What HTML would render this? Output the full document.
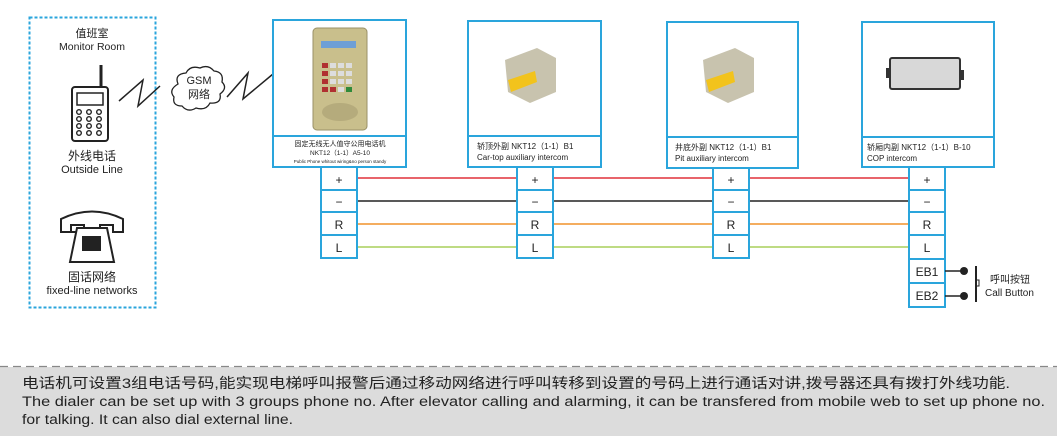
<!DOCTYPE html>
<html><head><meta charset="utf-8"><style>
html,body{margin:0;padding:0;background:#fff;width:1057px;height:436px;overflow:hidden}
svg{display:block}
text{font-family:"Liberation Sans","Noto Sans CJK SC",sans-serif;fill:#222}
</style></head><body>
<svg width="1057" height="436" viewBox="0 0 1057 436" xmlns="http://www.w3.org/2000/svg">
<rect x="29.5" y="17.5" width="126" height="290" fill="none" stroke="#2aa5dc" stroke-width="2" stroke-dasharray="3,2"/>
<text x="92" y="37" font-size="11" text-anchor="middle">值班室</text>
<text x="92" y="50" font-size="10.5" text-anchor="middle">Monitor Room</text>
<line x1="101" y1="65" x2="101" y2="88" stroke="#222" stroke-width="3"/>
<rect x="72" y="87" width="36" height="54" rx="3" fill="#fff" stroke="#222" stroke-width="2"/>
<rect x="77" y="93" width="26" height="12" fill="none" stroke="#222" stroke-width="1.5"/>
<g fill="none" stroke="#222" stroke-width="1.4">
<circle cx="79" cy="112" r="2.3"/><circle cx="89" cy="112" r="2.3"/><circle cx="99" cy="112" r="2.3"/>
<circle cx="79" cy="119" r="2.3"/><circle cx="89" cy="119" r="2.3"/><circle cx="99" cy="119" r="2.3"/>
<circle cx="79" cy="126" r="2.3"/><circle cx="89" cy="126" r="2.3"/><circle cx="99" cy="126" r="2.3"/>
<circle cx="79" cy="133" r="2.3"/><circle cx="89" cy="133" r="2.3"/><circle cx="99" cy="133" r="2.3"/>
</g>
<text x="92" y="160" font-size="12" text-anchor="middle">外线电话</text>
<text x="92" y="173" font-size="11" text-anchor="middle">Outside Line</text>
<path d="M61 232 L61 219 Q92 204 123 219 L123 232 L113 232 L113 225 L100 225 L100 232 Z M71 232 L71 225 L84 225 L84 232 Z" fill="none" stroke="#222" stroke-width="2"/>
<path d="M77 228 L107 228 L114 262 L70 262 Z" fill="#fff" stroke="#222" stroke-width="2"/>
<rect x="82" y="236" width="19" height="15" fill="#222"/>
<text x="92" y="281" font-size="12" text-anchor="middle">固话网络</text>
<text x="92" y="294" font-size="11" text-anchor="middle">fixed-line networks</text>
<polyline points="119,101 143,80 138,106 160,86" fill="none" stroke="#222" stroke-width="1.5"/>
<polyline points="227,97 248,73 243,99 273,74" fill="none" stroke="#222" stroke-width="1.5"/>
<path d="M178 84 q-4 -10 8 -11 q4 -8 14 -5 q8 -4 14 3 q10 1 8 11 q6 6 -2 12 q2 10 -10 9 q-4 8 -14 5 q-8 5 -14 -2 q-10 0 -8 -9 q-6 -7 4 -13 Z" fill="#fff" stroke="#222" stroke-width="1.3"/>
<text x="199" y="84" font-size="11" text-anchor="middle">GSM</text>
<text x="199" y="98" font-size="11" text-anchor="middle">网络</text>

<line x1="357" y1="178" x2="909" y2="178" stroke="#e0303a" stroke-width="1.5"/>
<line x1="357" y1="201" x2="909" y2="201" stroke="#222" stroke-width="1.5"/>
<line x1="357" y1="224" x2="909" y2="224" stroke="#f0922a" stroke-width="1.5"/>
<line x1="357" y1="247" x2="909" y2="247" stroke="#a8cf5a" stroke-width="1.5"/>

<rect x="273" y="20" width="133" height="147" fill="#fff" stroke="#2aa5dc" stroke-width="2"/>
<line x1="273" y1="136" x2="406" y2="136" stroke="#2aa5dc" stroke-width="2"/>
<rect x="313" y="28" width="54" height="102" rx="4" fill="#c9bf8c" stroke="#9a9168"/>
<rect x="321" y="41" width="35" height="7" fill="#6e9fd6"/>
<g fill="#b03030"><rect x="322" y="63" width="6" height="5"/><rect x="322" y="71" width="6" height="5"/><rect x="322" y="79" width="6" height="5"/><rect x="322" y="87" width="6" height="5"/><rect x="330" y="87" width="6" height="5"/></g>
<g fill="#ddd"><rect x="330" y="63" width="6" height="5"/><rect x="338" y="63" width="6" height="5"/><rect x="346" y="63" width="6" height="5"/><rect x="330" y="71" width="6" height="5"/><rect x="338" y="71" width="6" height="5"/><rect x="346" y="71" width="6" height="5"/><rect x="330" y="79" width="6" height="5"/><rect x="338" y="79" width="6" height="5"/><rect x="346" y="79" width="6" height="5"/><rect x="338" y="87" width="6" height="5"/></g>
<rect x="346" y="87" width="6" height="5" fill="#2f8a3a"/>
<ellipse cx="340" cy="112" rx="18" ry="9" fill="#b5ab7c"/>
<text x="340" y="146" font-size="7" text-anchor="middle">固定无线无人值守公用电话机</text>
<text x="340" y="155" font-size="6.5" text-anchor="middle">NKT12（1-1）A5-10</text>
<text x="340" y="163" font-size="4.5" text-anchor="middle">Public Phone whitout wiring&amp;no person standy</text>

<rect x="468" y="21" width="133" height="146" fill="#fff" stroke="#2aa5dc" stroke-width="2"/>
<line x1="468" y1="136" x2="601" y2="136" stroke="#2aa5dc" stroke-width="2"/>
<path d="M505 60 L537 48 L556 58 L556 92 L530 103 L508 92 Z" fill="#c8c3ae"/>
<path d="M508 80 L535 71 L537 82 L511 92 Z" fill="#f2c31c"/>
<text x="477" y="149" font-size="8">轿顶外副 NKT12（1-1）B1</text>
<text x="477" y="160" font-size="8">Car-top auxiliary intercom</text>

<rect x="667" y="22" width="131" height="146" fill="#fff" stroke="#2aa5dc" stroke-width="2"/>
<line x1="667" y1="137" x2="798" y2="137" stroke="#2aa5dc" stroke-width="2"/>
<path d="M703 60 L735 48 L754 58 L754 92 L728 103 L706 92 Z" fill="#c8c3ae"/>
<path d="M706 80 L733 71 L735 82 L709 92 Z" fill="#f2c31c"/>
<text x="675" y="150" font-size="8">井底外副 NKT12（1-1）B1</text>
<text x="675" y="161" font-size="8">Pit auxiliary intercom</text>

<rect x="862" y="22" width="132" height="145" fill="#fff" stroke="#2aa5dc" stroke-width="2"/>
<line x1="862" y1="137" x2="994" y2="137" stroke="#2aa5dc" stroke-width="2"/>
<rect x="890" y="58" width="70" height="31" rx="2" fill="#d8d8d8" stroke="#333" stroke-width="2"/>
<rect x="886" y="68" width="5" height="10" fill="#333"/><rect x="959" y="70" width="5" height="10" fill="#333"/>
<text x="867" y="150" font-size="8">轿厢内副 NKT12（1-1）B-10</text>
<text x="867" y="161" font-size="8">COP intercom</text>

<g stroke="#2aa5dc" stroke-width="2" fill="#fff">
<rect x="321" y="167" width="36" height="91"/><rect x="517" y="167" width="36" height="91"/><rect x="713" y="168" width="36" height="90"/><rect x="909" y="167" width="36" height="140"/>
<line x1="321" y1="190" x2="357" y2="190"/><line x1="321" y1="212" x2="357" y2="212"/><line x1="321" y1="235" x2="357" y2="235"/>
<line x1="517" y1="190" x2="553" y2="190"/><line x1="517" y1="212" x2="553" y2="212"/><line x1="517" y1="235" x2="553" y2="235"/>
<line x1="713" y1="190" x2="749" y2="190"/><line x1="713" y1="212" x2="749" y2="212"/><line x1="713" y1="235" x2="749" y2="235"/>
<line x1="909" y1="190" x2="945" y2="190"/><line x1="909" y1="212" x2="945" y2="212"/><line x1="909" y1="235" x2="945" y2="235"/><line x1="909" y1="259" x2="945" y2="259"/><line x1="909" y1="283" x2="945" y2="283"/>
</g>
<g font-size="12" text-anchor="middle">
<text x="339" y="184">+</text><text x="339" y="206">−</text><text x="339" y="229">R</text><text x="339" y="252">L</text>
<text x="535" y="184">+</text><text x="535" y="206">−</text><text x="535" y="229">R</text><text x="535" y="252">L</text>
<text x="731" y="184">+</text><text x="731" y="206">−</text><text x="731" y="229">R</text><text x="731" y="252">L</text>
<text x="927" y="184">+</text><text x="927" y="206">−</text><text x="927" y="229">R</text><text x="927" y="252">L</text>
<text x="927" y="276">EB1</text><text x="927" y="300">EB2</text>
</g>
<line x1="945" y1="271" x2="964" y2="271" stroke="#222" stroke-width="1.5"/><circle cx="964" cy="271" r="4" fill="#222"/>
<line x1="945" y1="296" x2="964" y2="296" stroke="#222" stroke-width="1.5"/><circle cx="964" cy="296" r="4" fill="#222"/>
<line x1="976" y1="266" x2="976" y2="302" stroke="#222" stroke-width="2"/>
<rect x="976" y="280" width="3" height="6" fill="none" stroke="#222"/>
<text x="990" y="283" font-size="10">呼叫按钮</text>
<text x="985" y="296" font-size="10">Call Button</text>

<rect x="0" y="367" width="1057" height="69" fill="#dcdcdc"/>
<line x1="0" y1="366.5" x2="1057" y2="366.5" stroke="#888" stroke-width="1.3" stroke-dasharray="8,5"/>
<text x="22" y="388" font-size="14" textLength="988" lengthAdjust="spacingAndGlyphs">电话机可设置3组电话号码,能实现电梯呼叫报警后通过移动网络进行呼叫转移到设置的号码上进行通话对讲,拨号器还具有拨打外线功能.</text>
<text x="22" y="406" font-size="13.5" textLength="1023" lengthAdjust="spacingAndGlyphs">The dialer can be set up with 3 groups phone no.  After elevator calling and alarming, it can be transfered from mobile web to set up  phone no.</text>
<text x="22" y="424" font-size="13.5" textLength="271" lengthAdjust="spacingAndGlyphs">for talking. It can also dial external line.</text>
</svg>
</body></html>
